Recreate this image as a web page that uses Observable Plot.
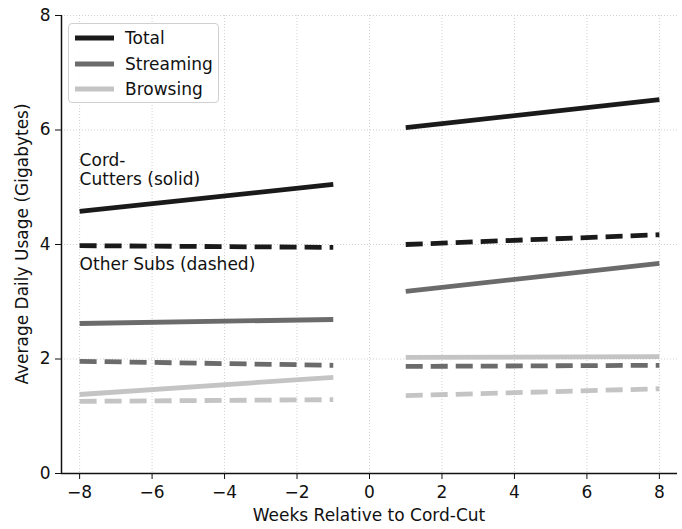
<!DOCTYPE html>
<html>
<head>
<meta charset="utf-8">
<script src="https://cdn.jsdelivr.net/npm/d3@7"></script>
<script src="https://cdn.jsdelivr.net/npm/@observablehq/plot@0.6"></script>
<style>
  html, body { margin: 0; padding: 0; background: #fff; }
  #wrap { position: relative; width: 682px; height: 529px; font-family: "DejaVu Sans", sans-serif; color: #111; }
  #legend { position: absolute; left: 68px; top: 23px; width: 151px; height: 80px; border: 1px solid #d0d0d0; border-radius: 4px; background: rgba(255,255,255,0.9); box-sizing: border-box; }
  .lrow { position: absolute; left: 6px; height: 22px; display: flex; align-items: center; font-size: 17px; color: #111; }
  .lrow svg { margin-right: 11px; }
  .xlabel { position: absolute; left: 61px; width: 616px; top: 505px; text-align: center; font-size: 17px; }
  .ylabel { position: absolute; left: 22px; top: 244px; transform: translate(-50%, -50%) rotate(-90deg); white-space: nowrap; font-size: 17px; }
</style>
</head>
<body>
<div id="wrap"></div>
<script>
const series = ["Total", "Streaming", "Browsing"];
const colors = ["#1a1a1a", "#6b6b6b", "#c4c4c4"];
const segX = [[-8, -1], [1, 8]];
// values at segment endpoints: [pre start, pre end, post start, post end]
const cordCutters = {
  Total:     [4.58, 5.05, 6.04, 6.53],
  Streaming: [2.62, 2.69, 3.18, 3.67],
  Browsing:  [1.38, 1.68, 2.03, 2.04]
};
const otherSubs = {
  Total:     [3.98, 3.95, 4.00, 4.17],
  Streaming: [1.96, 1.89, 1.87, 1.89],
  Browsing:  [1.26, 1.29, 1.36, 1.48]
};
const xTicks = [-8, -6, -4, -2, 0, 2, 4, 6, 8];
const yTicks = [0, 2, 4, 6, 8];
const xLabel = "Weeks Relative to Cord-Cut";
const yLabel = "Average Daily Usage (Gigabytes)";

function rows(obj, group) {
  const out = [];
  for (const s of series) {
    const v = obj[s];
    segX.forEach((xs, si) => {
      xs.forEach((x, j) => out.push({series: s, group, seg: s + "-" + si, x, y: v[si * 2 + j]}));
    });
  }
  return out;
}
const solid = rows(cordCutters, "solid");
const dashed = rows(otherSubs, "dashed");

const chart = Plot.plot({
  width: 682,
  height: 529,
  marginLeft: 61,
  marginRight: 5,
  marginTop: 15,
  marginBottom: 56,
  style: {fontFamily: "DejaVu Sans, sans-serif", fontSize: "17px", color: "#111", background: "#fff"},
  x: {domain: [-8.5, 8.5], ticks: xTicks, tickSize: 6, tickPadding: 6, label: null},
  y: {domain: [0, 8], ticks: yTicks, tickSize: 6, tickPadding: 5, label: null},
  color: {domain: series, range: colors},
  marks: [
    Plot.gridX(xTicks, {stroke: "#c4c4c4", strokeOpacity: 1, strokeWidth: 0.8, strokeDasharray: "1,2"}),
    Plot.gridY(yTicks, {stroke: "#c4c4c4", strokeOpacity: 1, strokeWidth: 0.8, strokeDasharray: "1,2"}),
    Plot.line(solid, {x: "x", y: "y", z: "seg", stroke: "series", strokeWidth: 4.8, strokeLinecap: "butt"}),
    Plot.line(dashed, {x: "x", y: "y", z: "seg", stroke: "series", strokeWidth: 4.8, strokeLinecap: "butt", strokeDasharray: "17,8"}),
    Plot.text(["Cord-\nCutters (solid)"], {x: -8, y: 5.47, text: d => d, textAnchor: "start", lineAnchor: "middle", lineHeight: 1.1, fontSize: 17, fill: "#111", dy: 9}),
    Plot.text(["Other Subs (dashed)"], {x: -8, y: 3.65, text: d => d, textAnchor: "start", fontSize: 17, fill: "#111"}),
    Plot.ruleY([0], {stroke: "#111", strokeWidth: 1.5}),
    Plot.ruleX([-8.5], {stroke: "#111", strokeWidth: 1.5})
  ]
});
const wrap = document.getElementById("wrap");
wrap.appendChild(chart);

const xl = document.createElement("div");
xl.className = "xlabel"; xl.textContent = xLabel; wrap.appendChild(xl);
const yl = document.createElement("div");
yl.className = "ylabel"; yl.textContent = yLabel; wrap.appendChild(yl);

const legend = document.createElement("div");
legend.id = "legend";
series.forEach((s, i) => {
  const r = document.createElement("div");
  r.className = "lrow";
  r.style.top = (3 + i * 25.5) + "px";
  r.innerHTML = `<svg width="39" height="8"><line x1="0" y1="4" x2="39" y2="4" stroke="${colors[i]}" stroke-width="4.8"/></svg><span>${s}</span>`;
  legend.appendChild(r);
});
wrap.appendChild(legend);
</script>
</body>
</html>
